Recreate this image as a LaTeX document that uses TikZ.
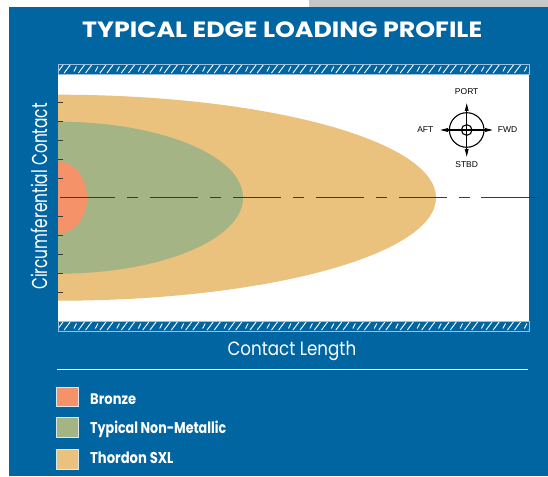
\documentclass[tikz,border=0pt]{standalone}
\usepackage{fontspec}
\usepackage{graphicx}
\setmainfont{Poppins}
\newfontfamily\compassfont{Liberation Sans}
\usetikzlibrary{arrows.meta}
\definecolor{panelblue}{HTML}{0065A1}
\definecolor{topgray}{HTML}{C6C7C9}
\definecolor{sxltan}{HTML}{EAC17D}
\definecolor{nmgreen}{HTML}{A5B485}
\definecolor{bronzecol}{HTML}{F6926A}
\definecolor{hatchedge}{HTML}{9CC0DD}
\definecolor{axisgray}{HTML}{3A3A3A}
\newlength\fitW
\newlength\fitH
\newcommand\fittext[3]{\settowidth\fitW{#3}\settoheight\fitH{X}%
  \pgfmathsetmacro\fitsx{#1/\fitW}\pgfmathsetmacro\fitsy{#2/\fitH}%
  \scalebox{\fitsx}[\fitsy]{#3}}
\begin{document}
\begin{tikzpicture}[x=1pt,y=-1pt,
  whitetext/.style={text=white,inner sep=0pt,anchor=base west},
  compasstext/.style={font=\compassfont\fontsize{8.5}{10}\selectfont,text=black,inner sep=0pt},
  legendbox/.style={draw=white!85!panelblue,line width=0.8pt,minimum width=22pt,minimum height=19.4pt,inner sep=0pt},
  tickmark/.style={draw=axisgray,line width=0.9pt},
  compassline/.style={draw=black,line width=1.1pt},
  axisline/.style={axisgray,line width=1pt}
]
\useasboundingbox (0,0) rectangle (548,476);
\fill[white] (0,0) rectangle (548,476);
\fill[topgray] (309,0) rectangle (548,7);
\fill[panelblue] (9,7) rectangle (548,476);

% title
\node[whitetext,font=\bfseries] (title) at (82,37.5) {\fittext{400}{15.5}{TYPICAL EDGE LOADING PROFILE}};

% interior
\fill[white] (58,74) rectangle (529,321);
\begin{scope}
  \clip (58,74) rectangle (529,321);
  \fill[sxltan] (58,197.7) ellipse [x radius=378, y radius=103];
  \fill[nmgreen] (58,197.7) ellipse [x radius=185, y radius=76];
  \fill[bronzecol] (58,197.7) ellipse [x radius=29, y radius=36];
\end{scope}

% ticks
\foreach \k in {0,1,2,3,4,6,7,8,9,10}
  \draw[tickmark] (58,102.3+19*\k) -- (62.5,102.3+19*\k);

% centre line
\coordinate (axisL) at (60,197.7);
\coordinate (axisM) at (470,197.7);
\coordinate (axisN) at (481,197.7);
\coordinate (axisR) at (537,197.7);
\draw[axisline] (axisL) -- (67,197.7);
\draw[axisline,dash pattern=on 48pt off 12pt on 11pt off 12pt] (67,197.7) -- (axisM);
\draw[axisline] (axisN) -- (axisR);

% hatched bands
\foreach \yt/\yb in {64/74,321/331}{
  \fill[panelblue] (58,\yt) rectangle (529,\yb);
  \begin{scope}
    \clip (58,\yt) rectangle (529,\yb);
    \foreach \i in {0,...,66}{
      \pgfmathsetmacro\xx{58+7.15*\i}
      \pgfmathtruncatemacro\mm{mod(\i,3)}
      \ifnum\mm=2
        \draw[white,line width=0.9pt] (\xx+1.6,\yb-2.5) -- (\xx+4.2,\yt+2.5);
      \else
        \draw[white,line width=0.9pt] (\xx-1,\yb-1) -- (\xx+5,\yt+1);
      \fi
    }
  \end{scope}
  \draw[hatchedge,line width=0.7pt] (58,\yt) rectangle (529,\yb);
}

% compass
\coordinate (cc) at (466.7,130);
\coordinate (cw) at (440,130);
\coordinate (ce) at (493,130);
\coordinate (cn) at (466.7,103);
\coordinate (cs) at (466.7,157);
\draw[compassline] (cc) circle [radius=17.3];
\draw[compassline] (cc) circle [radius=5.3];
\draw[compassline,{Triangle[length=8pt,width=3.6pt]}-{Triangle[length=8pt,width=3.6pt]}] (cw) -- (ce);
\draw[compassline,{Triangle[length=8pt,width=3.6pt]}-{Triangle[length=8pt,width=3.6pt]}] (cn) -- (cs);
\node[compasstext] (port) at (466.7,92) {PORT};
\node[compasstext] (stbd) at (466.7,164.5) {STBD};
\node[compasstext] (aft) at (425.3,130) {AFT};
\node[compasstext] (fwd) at (507.5,130) {FWD};

% axis labels
\node[whitetext,rotate=90] (circ) at (47,290) {\fittext{186.7}{15}{Circumferential Contact}};
\node[whitetext] (clen) at (227.3,355.7) {\fittext{128.7}{13.4}{Contact Length}};
\draw[white,line width=1.4pt] (57,369.3) -- (528,369.3);

% legend
\node[legendbox,fill=bronzecol] (lg1) at (67,397) {};
\node[legendbox,fill=nmgreen] (lg2) at (67,427.3) {};
\node[legendbox,fill=sxltan] (lg3) at (67,459.3) {};
\node[whitetext,font=\bfseries] (lt1) at (90,404) {\fittext{46}{10.7}{Bronze}};
\node[whitetext,font=\bfseries] (lt2) at (90,433.5) {\fittext{136}{11}{Typical Non-Metallic}};
\node[whitetext,font=\bfseries] (lt3) at (90,463.3) {\fittext{83.3}{11}{Thordon SXL}};
\end{tikzpicture}
\end{document}
